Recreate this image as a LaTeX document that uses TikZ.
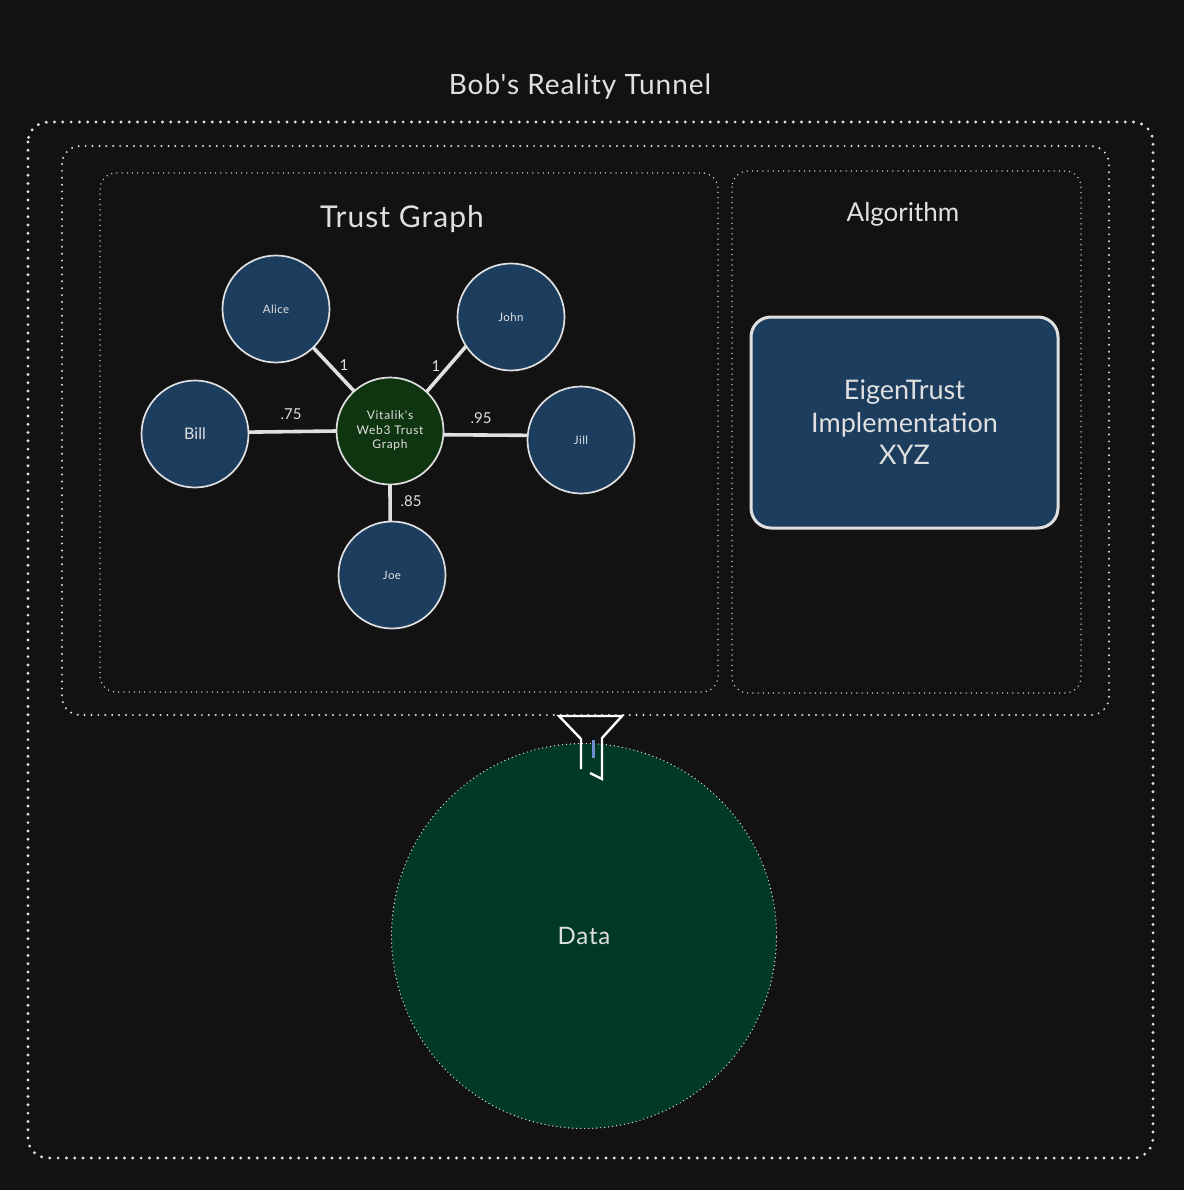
\documentclass[tikz,border=0pt]{standalone}
\usepackage{fontspec}
\setmainfont{Lato}
\newfontfamily\spaced[LetterSpace=3.5]{Lato}
\newfontfamily\spacedsmall[LetterSpace=6]{Lato}
\definecolor{bgc}{HTML}{121212}
\definecolor{inkc}{HTML}{E0E0E0}
\definecolor{bluec}{HTML}{1D3D5E}
\definecolor{greenc}{HTML}{0F3410}
\definecolor{datac}{HTML}{013A24}
\definecolor{pinc}{HTML}{6C8FCB}
\tikzset{
  outerbox/.style={draw=inkc,line width=3.2pt,line cap=round,dash pattern=on 0pt off 8.3pt,rounded corners=20pt},
  midbox/.style={draw=inkc,line width=2.2pt,line cap=round,dash pattern=on 0pt off 6.9pt,rounded corners=18pt},
  innerbox/.style={draw=inkc,line width=1.5pt,line cap=round,dash pattern=on 0pt off 5.2pt,rounded corners=16pt},
  person/.style={circle,draw=inkc,fill=bluec,line width=1.7pt,minimum size=107pt,inner sep=0pt,outer sep=0pt,text=inkc,font=\spaced\fontsize{11.5}{13}\selectfont},
  centre/.style={person,fill=greenc,align=center,font=\spacedsmall\fontsize{12}{14.5}\selectfont},
  tie/.style={draw=inkc,line width=3.6pt},
  weight/.style={text=inkc,inner sep=0pt,font=\fontsize{15}{16}\selectfont},
  heading/.style={text=inkc,inner sep=0pt,font=\spaced\fontsize{28}{30}\selectfont},
  funnelline/.style={draw=white,line width=2.4pt,line join=miter},
}
\begin{document}
\begin{tikzpicture}[x=1pt,y=-1pt]
\useasboundingbox (0,0) rectangle (1184,1190);
\fill[bgc] (0,0) rectangle (1184,1190);
\draw[outerbox] (28,122) rectangle (1153,1158);
\draw[midbox] (62,146) rectangle (1109,715);
\draw[innerbox] (100,173) rectangle (718,692);
\draw[innerbox] (732,171) rectangle (1081,693);
\node[heading] (title) at (580,87) {Bob's Reality Tunnel};
\node[heading,font=\spaced\fontsize{30}{32}\selectfont] (trust) at (402,219) {Trust Graph};
\node[heading,font=\fontsize{26}{30}\selectfont] (algo) at (903,214) {Algorithm};
\node[person] (alice) at (276,309) {Alice};
\node[person] (john) at (511,317) {John};
\node[person,font=\fontsize{16}{18}\selectfont] (bill) at (195,434) {Bill};
\node[person] (jill) at (581,440) {Jill};
\node[person] (joe) at (392,575) {Joe};
\node[centre] (vitalik) at (390,431) {Vitalik's\\Web3 Trust\\Graph};
\draw[tie] (alice.-46) -- (vitalik.132);
\draw[tie] (john.213) -- (vitalik.47);
\draw[tie] (bill.2) -- (vitalik.west);
\draw[tie] (vitalik.-4) -- (jill.175);
\draw[tie] (vitalik.south) -- (joe.92);
\node[weight] (w1) at (344,365) {1};
\node[weight] (w2) at (436,366) {1};
\node[weight] (w3) at (291,414) {.75};
\node[weight] (w4) at (481,418) {.95};
\node[weight] (w5) at (411,501) {.85};
\node[draw=inkc,fill=bluec,line width=3pt,rounded corners=20pt,minimum width=307pt,minimum height=211pt,align=center,text=inkc,inner sep=0pt,outer sep=0pt,font=\fontsize{27}{32.5}\selectfont] (eigen) at (904.5,422.5) {EigenTrust\\Implementation\\XYZ};
\node[circle,draw=inkc,fill=datac,line width=1.4pt,line cap=round,dash pattern=on 0pt off 4pt,minimum size=385pt,inner sep=0pt,outer sep=0pt,text=inkc,font=\spaced\fontsize{24}{26}\selectfont] (data) at (584,936) {Data};
\draw[funnelline] (581,769) -- (581,739) -- (559,716) -- (622,716) -- (602,738) -- (602,779) -- (590,773);
\draw[draw=pinc,line width=3pt] (593,740) -- (593,758);
\end{tikzpicture}
\end{document}
